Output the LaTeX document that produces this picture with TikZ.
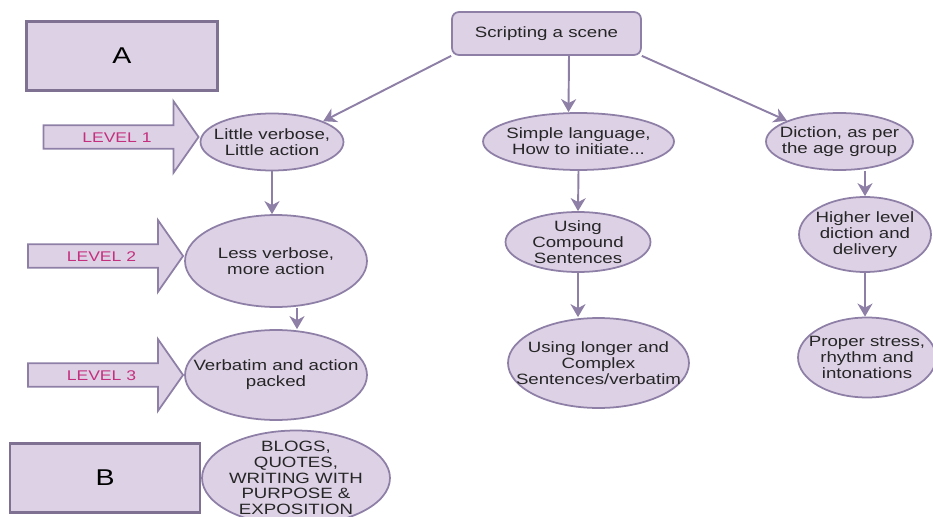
\documentclass[tikz,border=0pt]{standalone}
\usepackage{fontspec}
\setmainfont{Liberation Sans}[FakeStretch=1.25]
\usepackage{xcolor}
\usetikzlibrary{positioning,arrows.meta,shapes.geometric,shapes.arrows}
\definecolor{lilac}{HTML}{DDD1E6}
\definecolor{lilacline}{HTML}{8E7FA6}
\definecolor{boxline}{HTML}{7E7191}
\definecolor{levelpink}{HTML}{C4307E}

\begin{document}
\begin{tikzpicture}[x=0.02cm, y=-0.02cm,
        bubble/.style={
            ellipse, draw=lilacline, fill=lilac, line width=1pt, inner sep=-1cm,
            align=center, text=black!85, font=\fontsize{8.5}{9}\selectfont
        },
        letterbox/.style={
            draw=boxline, fill=lilac, line width=1.2pt, minimum width=3.82cm,
            minimum height=1.38cm, font=\fontsize{13}{15}\selectfont
        },
        scenebox/.style={
            draw=lilacline, fill=lilac, line width=1pt, rounded corners=4pt,
            minimum width=3.78cm, minimum height=0.86cm, text=black!85,
            font=\fontsize{8.5}{10}\selectfont
        },
        lvl/.style={
            single arrow, draw=lilacline, fill=lilac, line width=1pt, anchor=tip,
            minimum height=3.1cm, single arrow head extend=0.48cm,
            single arrow tip angle=110, text height=5.8pt, text depth=0pt,
            inner ysep=3.3pt, inner xsep=2pt, text=levelpink,
            font=\fontsize{8}{9}\selectfont
        },
        flow/.style={draw=lilacline, line width=1.1pt,
            -{Stealth[length=2.6mm, width=3mm, inset=0.8mm]}}
    ]
        \clip (0,0) rectangle (933,517);
        \node[letterbox] (boxA) at (122,56) {A};
        \node[scenebox] (scene) at (546.5,33.5) {Scripting a scene};

        \node[bubble, minimum width=2.86cm, minimum height=1.14cm] (little) at (272,142)
            {Little verbose,\\Little action};
        \node[bubble, minimum width=3.64cm, minimum height=1.84cm] (less) at (276,261)
            {Less verbose,\\more action};
        \node[bubble, minimum width=3.64cm, minimum height=1.8cm] (verb) at (276,375)
            {Verbatim and action\\packed};
        \node[bubble, minimum width=3.76cm, minimum height=1.9cm] (blogs) at (296,478)
            {BLOGS,\\QUOTES,\\WRITING WITH\\PURPOSE \&\\EXPOSITION};
        \node[letterbox, minimum width=3.8cm, left=0pt of blogs] (boxB) {B};

        \node[bubble, minimum width=3.82cm, minimum height=1.14cm] (simple) at (578.5,141.5)
            {Simple language,\\How to initiate...};
        \node[bubble, minimum width=2.9cm, minimum height=1.2cm] (compound) at (578,242)
            {Using\\Compound\\Sentences};
        \node[bubble, minimum width=3.62cm, minimum height=1.8cm] (longer) at (598.5,363)
            {Using longer and\\Complex\\Sentences/verbatim};

        \node[bubble, minimum width=2.94cm, minimum height=1.14cm] (diction) at (839.5,141.5)
            {Diction, as per\\the age group};
        \node[bubble, minimum width=2.64cm, minimum height=1.5cm] (higher) at (865,234.5)
            {Higher level\\diction and\\delivery};
        \node[bubble, minimum width=2.76cm, minimum height=1.6cm] (proper) at (867,357.5)
            {Proper stress,\\rhythm and\\intonations};

        \node[lvl] (lvl1) at ([yshift=1mm]little.west) {LEVEL 1};
        \node[lvl] (lvl2) at ([yshift=1mm]less.west) {LEVEL 2};
        \node[lvl] (lvl3) at (verb.west) {LEVEL 3};

        \draw[flow] (scene.south west) -- (little.north east);
        \draw[flow] ([xshift=4.5mm]scene.south) -- ([xshift=-2mm]simple.north);
        \draw[flow] (scene.south east) -- (diction.north west);
        \draw[flow] (little.south) -- (little.south |- less.north);
        \draw[flow] ([xshift=4.2mm]less.south) -- ([xshift=4.2mm]verb.north);
        \draw[flow] (simple.south) -- (compound.north);
        \draw[flow] (compound.south) -- (longer.north -| compound.south);
        \draw[flow] (diction.south -| higher.north) -- (higher.north);
        \draw[flow] (higher.south) -- (proper.north -| higher.south);
    \end{tikzpicture}
\end{document}
